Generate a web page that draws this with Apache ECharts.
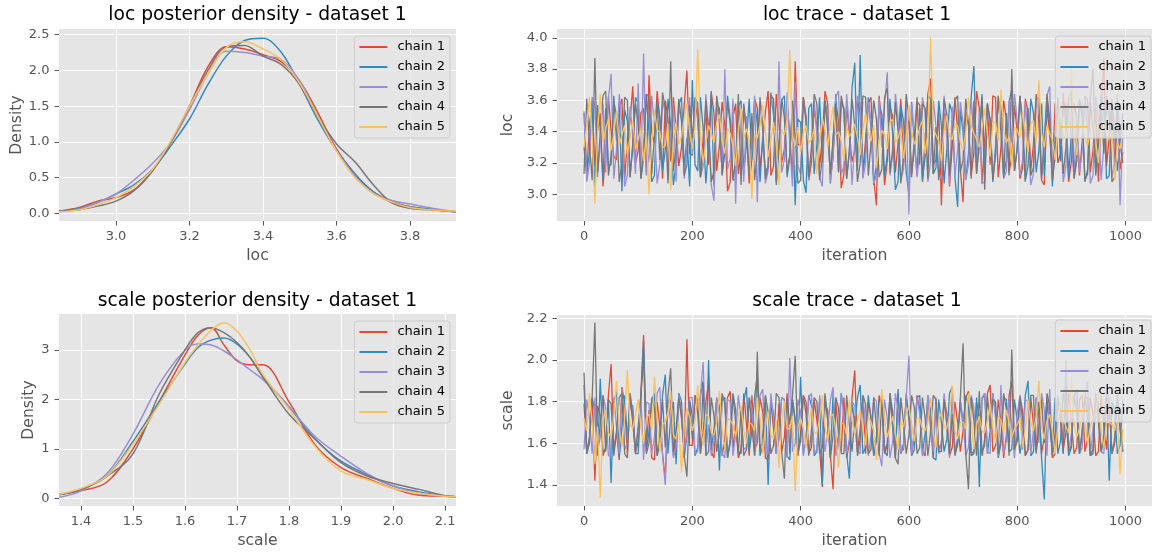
<!DOCTYPE html>
<html><head><meta charset="utf-8">
<script src="https://cdn.jsdelivr.net/npm/echarts@6/dist/echarts.min.js"></script>
<style>html,body{margin:0;padding:0;background:#fff}#c{width:1152px;height:552px}</style>
</head><body><div id="c"></div>
<script>
const chainNames = ['chain 1','chain 2','chain 3','chain 4','chain 5'];
const colors = ['#E24A33','#348ABD','#988ED5','#777777','#FBC15E'];

// loc posterior density (KDE)
const locGrid = [2.845,2.9,2.95,3.0,3.05,3.1,3.15,3.2,3.25,3.3,3.35,3.4,3.45,3.5,3.55,3.6,3.65,3.7,3.75,3.8,3.85,3.925];
const locDens1 = [0.03,0.08,0.17,0.22,0.33,0.60,1.00,1.50,2.05,2.33,2.30,2.22,2.12,1.85,1.40,0.90,0.55,0.30,0.17,0.09,0.06,0.02];
const locDens2 = [0.03,0.07,0.15,0.27,0.40,0.62,0.95,1.32,1.80,2.20,2.42,2.45,2.25,1.80,1.30,0.88,0.55,0.30,0.15,0.09,0.06,0.02];
const locDens3 = [0.02,0.06,0.15,0.27,0.47,0.70,1.00,1.45,1.95,2.27,2.25,2.20,2.15,1.85,1.35,0.88,0.52,0.28,0.18,0.13,0.08,0.02];
const locDens4 = [0.03,0.05,0.10,0.17,0.32,0.60,1.00,1.50,2.00,2.33,2.35,2.20,2.08,1.80,1.35,0.97,0.72,0.40,0.15,0.07,0.05,0.02];
const locDens5 = [0.02,0.05,0.12,0.22,0.38,0.62,1.02,1.50,1.95,2.32,2.40,2.30,2.15,1.82,1.35,0.87,0.50,0.28,0.16,0.08,0.05,0.03];

// scale posterior density
const scaleGrid = [1.358,1.4,1.45,1.5,1.55,1.6,1.625,1.65,1.675,1.7,1.725,1.75,1.8,1.85,1.9,1.95,2.0,2.05,2.1,2.121];
const scaleDens1 = [0.08,0.15,0.33,1.00,1.95,2.90,3.30,3.45,3.10,2.78,2.70,2.70,1.95,1.08,0.62,0.40,0.20,0.06,0.04,0.03];
const scaleDens2 = [0.07,0.18,0.45,1.15,1.95,2.72,3.05,3.20,3.24,3.12,2.85,2.45,1.85,1.20,0.75,0.48,0.25,0.13,0.05,0.03];
const scaleDens3 = [0.02,0.15,0.50,1.30,2.30,3.00,3.12,3.10,2.98,2.80,2.60,2.40,1.85,1.25,0.85,0.50,0.25,0.10,0.04,0.03];
const scaleDens4 = [0.08,0.18,0.45,0.90,2.10,3.00,3.35,3.45,3.35,3.15,2.85,2.45,1.70,1.20,0.72,0.45,0.30,0.18,0.05,0.03];
const scaleDens5 = [0.08,0.20,0.45,1.10,1.90,2.75,3.10,3.40,3.55,3.38,3.00,2.50,1.80,1.05,0.55,0.38,0.20,0.10,0.04,0.03];

// traces, one value every iterStep iterations
const iterStep = 5;
const locTrace1 = [3.30,3.12,3.45,3.58,3.18,3.41,3.52,3.05,3.27,3.63,3.40,3.24,3.22,3.55,3.61,3.09,3.35,3.47,3.69,3.20,
3.28,3.52,3.55,3.14,3.76,3.39,3.33,3.66,3.47,3.10,3.60,3.48,3.21,3.62,3.42,3.18,3.30,3.57,3.79,3.26,
3.25,3.60,3.48,3.11,3.36,3.54,3.19,3.65,3.52,3.15,3.31,3.59,3.44,3.02,3.08,3.49,3.58,3.13,3.27,3.56,
3.40,3.07,3.22,3.61,3.55,3.16,3.34,3.53,3.66,3.12,3.18,3.64,3.45,3.20,3.29,3.58,3.38,3.10,3.85,3.32,
3.31,3.62,3.50,3.09,3.20,3.55,3.43,3.17,3.36,3.66,3.58,3.11,3.24,3.59,3.47,3.04,3.13,3.57,3.39,3.21,
3.28,3.60,3.52,3.15,3.35,3.58,3.62,3.10,2.93,3.63,3.44,3.06,3.21,3.56,3.50,3.14,3.33,3.61,3.18,3.49,
3.46,3.13,3.29,3.59,3.57,3.08,3.36,3.64,3.74,3.19,3.22,3.55,2.93,3.52,3.48,3.05,3.31,3.62,3.41,3.16,
2.95,3.54,3.44,3.12,3.27,3.66,3.55,3.07,3.35,3.58,3.19,3.63,3.62,3.11,3.30,3.60,3.48,3.14,3.24,3.57,
3.40,3.10,3.17,3.61,3.53,3.15,3.32,3.64,3.45,3.09,3.06,3.56,3.38,3.13,3.58,3.20,3.26,3.65,3.43,3.08,
3.21,3.58,3.49,3.12,3.34,3.63,3.60,3.14,3.28,3.55,3.08,3.52,3.87,3.18,3.37,3.61,3.20,3.50,3.16,3.27];
const locTrace2 = [3.52,3.14,3.26,3.60,3.00,3.57,3.41,3.09,3.55,3.18,3.19,3.63,3.34,3.58,3.02,3.54,3.47,3.11,3.30,3.62,
3.58,3.10,3.23,3.64,3.39,3.08,3.12,3.59,3.50,3.15,3.28,3.61,3.44,3.06,3.20,3.57,3.62,3.17,3.36,3.05,
3.73,3.19,3.15,3.62,3.42,3.07,3.31,3.66,3.05,3.58,3.55,3.12,3.27,3.63,3.48,3.09,3.10,3.56,3.60,3.13,
3.33,3.61,3.22,3.58,3.45,3.08,3.37,3.14,3.18,3.65,3.51,3.06,3.29,3.60,3.63,3.11,3.24,3.57,2.93,3.48,
3.46,3.09,3.01,3.55,3.58,3.13,3.32,3.62,3.20,3.60,3.49,3.07,3.36,3.64,3.14,3.59,3.55,3.10,3.27,3.68,
3.84,3.15,3.89,3.11,3.30,3.62,3.42,3.06,3.19,3.58,3.51,3.12,3.25,3.61,3.38,3.03,3.08,3.57,3.47,3.14,
3.00,3.59,3.33,3.12,3.55,3.09,3.24,3.63,3.61,3.13,3.17,3.60,3.44,3.07,3.29,3.58,3.52,3.11,2.92,3.54,
3.40,3.10,3.26,3.62,3.82,3.16,3.35,3.64,3.13,3.57,3.48,3.08,3.31,3.60,3.56,3.12,3.22,3.59,3.67,3.15,
3.30,3.63,3.45,3.09,3.18,3.61,3.52,3.14,3.28,3.58,3.12,3.60,3.46,3.05,3.34,3.62,3.21,3.56,3.57,3.11,
3.39,3.12,3.25,3.60,3.50,3.08,3.16,3.59,3.43,3.14,3.31,3.64,3.55,3.10,3.12,3.58,3.40,3.15,3.33,3.52];
const locTrace3 = [3.53,3.08,3.20,3.62,3.57,3.11,3.33,3.58,3.14,3.61,3.77,3.10,3.29,3.64,3.46,3.05,3.12,3.56,3.38,3.13,
3.71,3.15,3.90,3.12,3.25,3.63,3.44,3.07,3.19,3.60,3.52,3.09,3.35,3.58,3.08,3.55,3.48,3.10,3.31,3.62,
3.26,3.60,3.54,3.11,3.18,3.64,3.40,3.06,2.96,3.57,3.45,3.13,3.80,3.16,3.23,3.61,2.94,3.59,3.36,3.08,
3.50,3.12,3.29,3.63,2.95,3.58,3.42,3.07,3.15,3.62,3.56,3.10,3.85,3.14,3.22,3.65,3.31,3.05,3.72,3.18,
3.13,3.61,3.47,3.09,3.28,3.60,3.38,3.11,3.05,3.58,3.51,3.08,3.24,3.62,3.66,3.13,3.18,3.64,3.41,3.06,
3.34,3.63,3.58,3.10,3.20,3.59,3.46,3.07,3.12,3.61,3.30,3.57,3.78,3.12,3.25,3.64,3.49,3.09,3.16,3.60,
2.87,3.58,3.38,3.11,3.27,3.62,3.52,3.08,3.21,3.60,3.44,3.13,3.10,3.63,3.35,3.06,3.56,3.12,3.28,3.59,
3.46,3.09,3.19,3.61,3.37,3.14,3.53,3.07,3.08,3.58,3.42,3.11,3.26,3.62,3.50,3.10,3.15,3.60,3.33,3.64,
3.47,3.12,3.22,3.59,3.39,3.06,3.13,3.62,3.55,3.10,3.30,3.63,3.69,3.13,3.24,3.60,3.44,3.08,3.18,3.61,
3.36,3.10,3.52,3.14,3.27,3.62,3.41,3.07,3.12,3.63,3.48,3.09,3.31,3.60,3.58,3.11,3.20,3.64,2.93,3.40];
const locTrace4 = [3.13,3.61,3.32,3.09,3.87,3.14,3.40,3.63,3.66,3.12,3.25,3.59,3.50,3.08,3.20,3.62,3.60,3.11,3.33,3.58,
3.45,3.10,3.28,3.64,3.62,3.13,3.37,3.60,3.22,3.65,3.55,3.07,3.85,3.15,3.30,3.61,3.47,3.12,3.19,3.57,
3.36,3.62,3.58,3.11,3.26,3.60,3.42,3.08,3.15,3.63,3.50,3.13,3.31,3.59,3.45,3.10,3.21,3.64,3.06,3.58,
3.39,3.12,3.52,3.09,3.27,3.62,3.44,3.10,3.18,3.63,3.61,3.08,3.33,3.61,3.49,3.14,3.25,3.60,3.37,3.07,
3.09,3.62,3.46,3.11,3.30,3.64,3.58,3.09,3.22,3.60,3.41,3.13,3.35,3.58,3.15,3.63,3.53,3.10,3.28,3.61,
3.44,3.08,3.20,3.63,3.62,3.12,3.33,3.60,3.48,3.11,3.16,3.62,3.68,3.14,3.29,3.59,3.40,3.07,3.24,3.64,
3.49,3.11,3.36,3.62,3.19,3.58,3.55,3.10,3.60,3.13,3.43,3.09,3.27,3.61,3.51,3.12,3.34,3.60,3.63,3.14,
3.22,3.61,3.45,3.10,3.60,3.13,3.31,3.62,3.03,3.58,3.47,3.09,3.25,3.63,3.39,3.11,3.52,3.12,3.80,3.15,
3.29,3.63,3.41,3.08,3.55,3.12,3.17,3.61,3.62,3.10,3.35,3.64,3.48,3.09,3.24,3.60,3.42,3.13,3.30,3.62,
3.66,3.10,3.21,3.61,3.54,3.09,3.13,3.62,3.80,3.12,3.38,3.59,3.26,3.63,3.49,3.08,3.11,3.60,3.32,3.20];
const locTrace5 = [3.30,3.45,3.62,3.37,2.94,3.40,3.64,3.33,3.42,3.48,3.28,3.39,3.53,3.31,3.38,3.44,3.25,3.36,3.47,3.29,
3.35,3.42,3.21,3.38,3.00,3.34,3.54,3.41,3.40,3.30,3.31,3.45,3.03,3.36,3.46,3.32,3.37,3.49,3.58,3.40,
3.29,3.43,3.93,3.37,3.20,3.33,3.44,3.39,3.33,3.46,3.51,3.35,3.26,3.42,3.39,3.31,3.18,3.40,3.55,3.36,
3.42,3.34,2.97,3.38,3.36,3.44,3.57,3.40,3.24,3.35,3.46,3.32,3.06,3.41,3.38,3.47,3.92,3.37,3.31,3.43,
3.27,3.39,3.44,3.33,3.35,3.42,3.13,3.36,3.49,3.41,3.30,3.45,3.56,3.38,3.40,3.34,3.21,3.43,3.37,3.40,
3.45,3.36,3.25,3.41,3.52,3.39,3.34,3.44,3.17,3.35,3.41,3.38,3.29,3.46,3.48,3.33,3.36,3.42,3.23,3.37,
3.57,3.40,3.32,3.36,3.43,3.47,3.26,3.39,4.00,3.42,3.38,3.34,3.21,3.41,3.50,3.37,3.35,3.45,3.44,3.33,
3.28,3.40,3.62,3.44,3.39,3.35,3.30,3.42,3.55,3.38,3.24,3.46,3.46,3.34,3.67,3.41,3.33,3.37,3.19,3.43,
3.41,3.36,3.53,3.40,3.27,3.45,3.47,3.33,3.73,3.39,3.30,3.44,3.39,3.35,3.22,3.42,3.58,3.38,3.36,3.46,
3.80,3.39,3.25,3.43,3.44,3.36,3.31,3.41,3.52,3.34,3.20,3.45,3.47,3.38,3.35,3.42,3.09,3.33,3.29,3.40];

const scaleTrace1 = [1.79,1.56,1.62,1.81,1.42,1.78,1.73,1.54,1.58,1.83,1.98,1.57,1.65,1.52,1.87,1.79,1.55,1.82,1.70,1.55,
1.61,1.84,2.12,1.58,1.76,1.53,1.52,1.80,1.68,1.55,1.43,1.79,1.81,1.54,1.64,1.82,1.72,1.56,2.10,1.59,
1.59,1.83,1.74,1.55,1.66,1.80,1.89,1.56,1.53,1.81,1.78,1.54,1.62,1.82,1.85,1.57,1.70,1.53,1.57,1.84,
1.69,1.54,1.83,1.57,1.60,1.82,1.75,1.53,1.52,1.80,1.67,1.55,1.79,1.56,1.63,1.84,1.55,1.81,1.72,1.54,
1.65,1.83,1.80,1.55,1.58,1.81,1.71,1.57,1.39,1.79,1.76,1.54,1.38,1.80,1.64,1.56,1.82,1.53,1.60,1.82,
1.95,1.56,1.67,1.82,1.55,1.80,1.73,1.54,1.62,1.83,1.78,1.55,1.59,1.81,1.69,1.53,1.84,1.56,1.57,1.84,
1.72,1.55,1.63,1.83,1.76,1.56,1.54,1.81,1.68,1.53,1.81,1.57,1.60,1.82,1.74,1.54,1.58,1.80,1.70,1.56,
1.66,1.82,1.85,1.55,1.56,1.80,1.73,1.54,1.62,1.84,1.88,1.56,1.59,1.81,1.71,1.53,1.64,1.83,1.90,1.57,
1.61,1.83,1.75,1.54,1.57,1.82,1.69,1.56,1.80,1.55,1.63,1.81,1.72,1.53,1.55,1.80,1.78,1.57,1.65,1.84,
1.70,1.55,1.58,1.81,1.83,1.56,1.62,1.82,1.74,1.54,1.56,1.83,1.68,1.57,1.79,1.55,1.60,1.80,1.66,1.58];
const scaleTrace2 = [1.88,1.55,1.60,1.82,1.75,1.54,1.91,1.56,1.57,1.81,1.41,1.80,1.85,1.53,1.68,1.83,1.62,1.79,1.78,1.55,
1.55,1.82,2.09,1.56,1.66,1.81,1.84,1.54,1.60,1.83,1.93,1.55,1.72,1.80,1.50,1.84,1.80,1.53,1.64,1.81,
1.73,1.54,1.58,1.83,1.90,1.55,2.00,1.57,1.67,1.82,1.47,1.81,1.82,1.53,1.62,1.84,1.76,1.56,1.55,1.80,
1.87,1.56,1.66,1.82,1.93,1.54,1.59,1.83,1.40,1.80,1.74,1.55,1.63,1.82,1.81,1.54,1.52,1.81,1.70,1.57,
1.92,1.55,1.61,1.83,1.78,1.54,1.56,1.81,1.40,1.82,1.72,1.53,1.84,1.56,1.64,1.84,1.75,1.55,1.43,1.80,
1.69,1.82,1.88,1.55,1.58,1.83,1.71,1.54,1.62,1.81,1.79,1.56,1.54,1.84,1.68,1.53,1.86,1.55,1.60,1.82,
1.73,1.54,1.57,1.82,1.83,1.55,1.65,1.83,1.76,1.53,1.52,1.81,1.70,1.56,1.62,1.84,1.87,1.55,1.59,1.80,
1.68,1.83,1.78,1.54,1.55,1.82,1.39,1.81,1.84,1.55,1.66,1.84,1.74,1.53,1.60,1.82,1.81,1.56,1.57,1.81,
1.71,1.55,1.63,1.83,1.90,1.54,1.56,1.82,1.77,1.53,1.33,1.80,1.69,1.56,1.82,1.55,1.61,1.84,1.74,1.54,
1.58,1.82,1.86,1.55,1.65,1.83,1.72,1.54,1.55,1.81,1.80,1.56,1.62,1.84,1.42,1.80,1.76,1.55,1.59,1.81];
const scaleTrace3 = [1.57,1.81,1.72,1.55,1.82,1.56,1.63,1.83,1.77,1.54,1.54,1.82,1.68,1.55,1.86,1.57,1.60,1.84,1.74,1.56,
1.66,1.82,1.52,1.80,1.79,1.55,1.63,1.84,1.87,1.54,1.40,1.81,1.70,1.53,1.58,1.83,1.76,1.56,1.65,1.82,
1.82,1.55,1.56,1.83,1.99,1.56,1.69,1.54,1.61,1.82,1.74,1.55,1.53,1.81,1.80,1.54,1.64,1.83,1.71,1.57,
1.58,1.82,1.77,1.54,1.66,1.83,1.86,1.56,1.55,1.84,1.72,1.55,1.62,1.82,1.81,1.53,2.01,1.56,1.60,1.81,
1.75,1.54,1.63,1.82,1.84,1.55,1.57,1.83,1.70,1.56,1.66,1.81,1.87,1.54,1.59,1.84,1.73,1.55,1.62,1.80,
1.78,1.56,1.55,1.83,1.68,1.54,1.64,1.82,1.80,1.55,1.49,1.81,1.72,1.53,1.61,1.84,1.76,1.56,1.58,1.82,
2.02,1.55,1.67,1.82,1.74,1.54,1.56,1.83,1.70,1.56,1.82,1.55,1.60,1.84,1.69,1.53,1.87,1.56,1.63,1.81,
1.71,1.54,1.58,1.83,1.77,1.55,1.64,1.82,1.84,1.56,1.55,1.84,1.72,1.54,1.88,1.55,1.61,1.82,1.68,1.53,
1.74,1.83,1.57,1.81,1.80,1.55,1.66,1.82,1.60,1.84,1.76,1.54,1.86,1.56,1.62,1.83,1.71,1.55,2.00,1.57,
1.64,1.82,1.79,1.55,1.58,1.83,1.90,1.54,1.67,1.81,1.73,1.56,1.55,1.84,1.82,1.55,1.63,1.82,1.69,1.56];
const scaleTrace4 = [1.94,1.55,1.63,1.82,2.18,1.56,1.70,1.83,1.56,1.81,1.79,1.54,1.66,1.82,1.84,1.55,1.53,1.84,1.72,1.56,
1.68,1.83,2.02,1.55,1.60,1.82,1.77,1.54,1.64,1.81,1.58,1.83,1.96,1.56,1.67,1.82,1.74,1.54,1.44,1.80,
1.62,1.83,1.81,1.55,1.89,1.54,1.56,1.82,1.73,1.56,1.65,1.84,1.79,1.53,1.60,1.83,1.70,1.55,1.76,1.54,
1.57,1.82,1.68,1.54,2.04,1.56,1.63,1.83,1.75,1.55,1.59,1.84,1.82,1.56,1.43,1.81,1.69,1.83,2.02,1.55,
1.61,1.83,1.74,1.54,1.66,1.82,1.80,1.55,1.58,1.84,1.71,1.53,1.64,1.82,1.77,1.55,1.55,1.83,1.69,1.56,
1.73,1.54,1.62,1.83,1.79,1.55,1.57,1.82,1.68,1.54,1.83,1.56,1.60,1.84,1.75,1.53,1.50,1.82,1.70,1.55,
1.64,1.83,1.77,1.55,1.58,1.82,1.72,1.54,1.66,1.83,1.81,1.56,1.56,1.81,1.69,1.55,1.74,1.54,1.61,1.82,
2.08,1.55,1.38,1.82,1.71,1.54,1.85,1.56,1.59,1.83,1.67,1.81,1.80,1.55,1.62,1.84,1.76,1.54,2.05,1.57,
1.63,1.82,1.72,1.54,1.57,1.83,1.83,1.55,1.68,1.81,1.60,1.84,1.78,1.54,1.65,1.82,1.71,1.55,1.88,1.56,
1.59,1.83,1.75,1.55,1.66,1.82,1.82,1.54,1.57,1.84,1.70,1.56,1.64,1.82,1.79,1.55,1.61,1.83,1.68,1.56];
const scaleTrace5 = [1.72,1.66,1.84,1.70,1.50,1.68,1.34,1.71,1.76,1.65,1.63,1.73,1.90,1.67,1.58,1.72,1.95,1.69,1.67,1.74,
1.81,1.68,1.60,1.72,1.74,1.66,1.92,1.71,1.56,1.69,1.70,1.75,1.85,1.64,1.62,1.70,1.46,1.67,1.77,1.73,
1.66,1.71,1.88,1.68,1.59,1.74,1.73,1.65,1.64,1.70,1.85,1.67,1.57,1.72,1.71,1.69,1.63,1.73,1.78,1.66,
1.60,1.70,1.69,1.66,1.82,1.72,1.55,1.68,1.75,1.64,1.62,1.71,1.48,1.69,1.80,1.67,1.67,1.73,1.37,1.68,
1.72,1.67,1.58,1.70,1.77,1.65,1.65,1.72,1.83,1.68,1.61,1.73,1.74,1.66,1.48,1.70,1.69,1.64,1.81,1.71,
1.64,1.71,1.76,1.67,1.59,1.73,1.70,1.66,1.52,1.69,1.86,1.72,1.63,1.68,1.73,1.65,1.57,1.70,1.68,1.74,
1.78,1.69,1.61,1.72,1.72,1.67,1.66,1.70,1.82,1.65,1.58,1.71,1.75,1.68,1.67,1.73,1.88,1.66,1.62,1.70,
1.70,1.67,1.84,1.72,1.57,1.69,1.73,1.66,1.65,1.71,1.79,1.68,1.60,1.73,1.71,1.65,1.76,1.70,1.63,1.67,
1.69,1.72,1.58,1.67,1.81,1.70,1.66,1.73,1.90,1.68,1.62,1.71,1.74,1.66,1.55,1.69,1.80,1.72,1.68,1.65,
1.92,1.70,1.63,1.67,1.77,1.71,1.60,1.68,1.72,1.74,1.85,1.66,1.58,1.70,1.70,1.69,1.66,1.72,1.45,1.67];

// tick labels
const locDensXTicks = [3.0,3.2,3.4,3.6,3.8];
const locDensYTicks = [0,0.5,1.0,1.5,2.0,2.5];
const scaleDensXTicks = [1.4,1.5,1.6,1.7,1.8,1.9,2.0,2.1];
const scaleDensYTicks = [0,1,2,3];
const iterTicks = [0,200,400,600,800,1000];
const locTraceYTicks = [3.0,3.2,3.4,3.6,3.8,4.0];
const scaleTraceYTicks = [1.4,1.6,1.8,2.0,2.2];

const F = 'DejaVu Sans';
const f1 = v => v.toFixed(1);
const f0 = v => String(Math.round(v));

function axis(gi, min, max, ticks, fmt, name, nameGap) {
  return {
    type: 'value', gridIndex: gi, min: min, max: max,
    name: name, nameLocation: 'middle', nameGap: nameGap,
    nameTextStyle: {color: '#555555', fontSize: 15.6, fontFamily: F},
    axisLine: {show: false, onZero: false},
    axisTick: {show: true, customValues: ticks, length: 4.5, lineStyle: {color: '#555555', width: 1}},
    axisLabel: {customValues: ticks, formatter: fmt, color: '#555555', fontSize: 13, fontFamily: F, margin: 9.5},
    splitLine: {show: true, lineStyle: {color: '#ffffff', width: 1}}
  };
}

const grids = [
  {left: 59, top: 29, width: 397, height: 192},
  {left: 557, top: 29, width: 600, height: 192},
  {left: 59, top: 314, width: 397, height: 192},
  {left: 557, top: 315, width: 600, height: 191}
].map(g => Object.assign(g, {show: true, backgroundColor: '#E5E5E5', borderWidth: 0, containLabel: false}));

const xAxes = [
  axis(0, 2.845, 3.925, locDensXTicks, f1, 'loc', 27),
  axis(1, -49.95, 1048.95, iterTicks, f0, 'iteration', 27),
  axis(2, 1.3577, 2.121, scaleDensXTicks, f1, 'scale', 27),
  axis(3, -49.95, 1048.95, iterTicks, f0, 'iteration', 27)
];
const yAxes = [
  axis(0, -0.108, 2.58, locDensYTicks, f1, 'Density', 34),
  axis(1, 2.830, 4.056, locTraceYTicks, f1, 'loc', 33),
  axis(2, -0.156, 3.728, scaleDensYTicks, f0, 'Density', 21),
  axis(3, 1.299, 2.216, scaleTraceYTicks, f1, 'scale', 33)
];

const locDens = [locDens1, locDens2, locDens3, locDens4, locDens5];
const scaleDens = [scaleDens1, scaleDens2, scaleDens3, scaleDens4, scaleDens5];
const locTrace = [locTrace1, locTrace2, locTrace3, locTrace4, locTrace5];
const scaleTrace = [scaleTrace1, scaleTrace2, scaleTrace3, scaleTrace4, scaleTrace5];

const series = [];
function addDensity(gi, grid, arrs) {
  arrs.forEach((a, k) => series.push({
    type: 'line', name: chainNames[k], xAxisIndex: gi, yAxisIndex: gi,
    data: a.map((v, i) => [grid[i], v]), smooth: 0.35, showSymbol: false,
    color: colors[k], lineStyle: {width: 1.5, color: colors[k]}, animation: false
  }));
}
function addTrace(gi, arrs) {
  arrs.forEach((a, k) => series.push({
    type: 'line', name: chainNames[k], xAxisIndex: gi, yAxisIndex: gi,
    data: a.map((v, i) => [i * iterStep, v]), showSymbol: false, sampling: null,
    color: colors[k], lineStyle: {width: 1.3, color: colors[k]}, animation: false
  }));
}
addDensity(0, locGrid, locDens);
addTrace(1, locTrace);
addDensity(2, scaleGrid, scaleDens);
addTrace(3, scaleTrace);

function legend(pos) {
  return Object.assign({
    data: chainNames, orient: 'vertical', icon: 'rect', itemWidth: 28, itemHeight: 2, itemGap: 4,
    padding: [3, 5, 3, 5], backgroundColor: 'rgba(229,229,229,0.8)', borderColor: '#cccccc', borderWidth: 1, borderRadius: 3,
    textStyle: {fontSize: 13, fontFamily: F, color: '#000', lineHeight: 16, padding: [0, 0, 0, 5]},
    selectedMode: false
  }, pos);
}

function title(x, y, t) {
  return {type: 'text', x: x, y: y, style: {text: t, fontSize: 18.7, fontFamily: F, fill: '#000', align: 'center', verticalAlign: 'middle'}};
}

const chart = echarts.init(document.getElementById('c'), null, {renderer: 'canvas'});
chart.setOption({
  animation: false,
  backgroundColor: '#ffffff',
  grid: grids,
  xAxis: xAxes,
  yAxis: yAxes,
  legend: [
    legend({right: 702, top: 36}),
    legend({right: 1, top: 36}),
    legend({right: 702, top: 321}),
    legend({right: 1, top: 320})
  ],
  graphic: [
    title(257.5, 15, 'loc posterior density - dataset 1'),
    title(857, 15, 'loc trace - dataset 1'),
    title(257.5, 301, 'scale posterior density - dataset 1'),
    title(857, 301, 'scale trace - dataset 1')
  ],
  series: series
});
</script></body></html>
